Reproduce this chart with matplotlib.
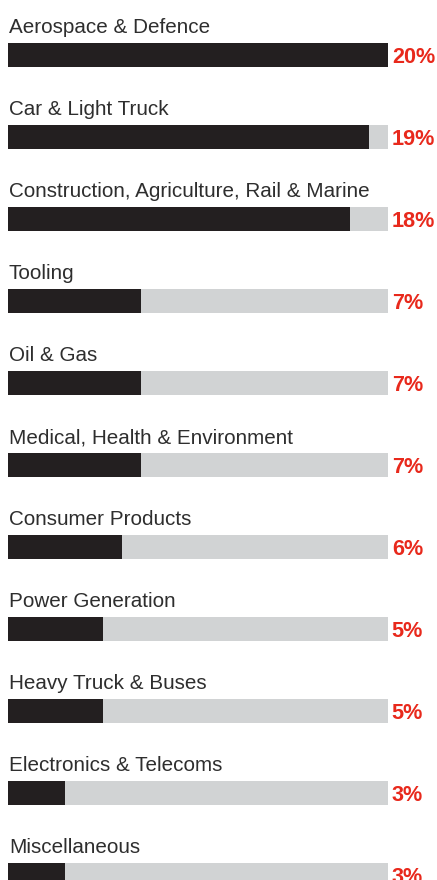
import matplotlib
matplotlib.use('Agg')
import matplotlib.pyplot as plt

categories = ['Aerospace & Defence', 'Car & Light Truck',
              'Construction, Agriculture, Rail & Marine', 'Tooling',
              'Oil & Gas', 'Medical, Health & Environment',
              'Consumer Products', 'Power Generation',
              'Heavy Truck & Buses', 'Electronics & Telecoms',
              'Miscellaneous']
values = [20, 19, 18, 7, 7, 7, 6, 5, 5, 3, 3]
labels = ['20%', '19%', '18%', '7%', '7%', '7%', '6%', '5%', '5%', '3%', '3%']
track_max = 20

plt.rcParams['font.family'] = ['Liberation Sans', 'DejaVu Sans']

fig = plt.figure(figsize=(4.37, 8.80), dpi=100)
ax = fig.add_axes([0, 0, 1, 1])

rows = list(range(len(categories)))
ax.barh(rows, [track_max] * len(rows), height=0.293, left=0, color='#d1d3d4')
ax.barh(rows, values, height=0.293, left=0, color='#231f20')

for i, (cat, lab) in enumerate(zip(categories, labels)):
    ax.text(0.05, i - 0.268, cat, fontsize=14.9, color='#2e2e2e',
            va='baseline', ha='left')
    ax.text(20.2, i + 0.03, lab, fontsize=15.6, color='#e8291c',
            fontweight='bold', va='center', ha='left')

ax.set_xlim(-8 / 19, 429 / 19)
ax.set_ylim(825 / 82, -55 / 82)
ax.axis('off')

fig.savefig('out.png', dpi=100)
